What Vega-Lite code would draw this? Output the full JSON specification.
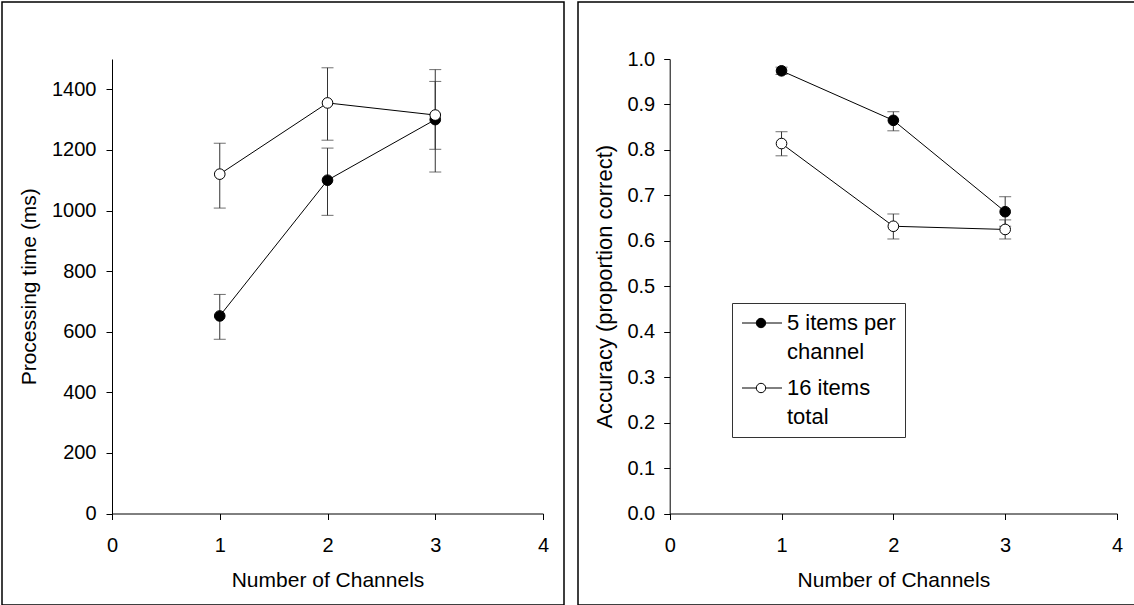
{
  "$schema": "https://vega.github.io/schema/vega-lite/v6.json",
  "padding": {"left": 1, "top": 1, "right": 0, "bottom": 0},
  "spacing": 12,
  "background": "white",
  "config": {
    "font": "Liberation Sans",
    "view": {"stroke": "black", "strokeWidth": 1.5},
    "axis": {
      "grid": false,
      "domainColor": "black",
      "tickColor": "black",
      "labelColor": "black",
      "titleColor": "black",
      "labelFontSize": 20,
      "titleFontSize": 21,
      "titleFontWeight": "normal",
      "tickSize": 6,
      "domainWidth": 1,
      "tickWidth": 1,
      "labelOverlap": false,
      "labelFlush": false
    },
    "style": {"guide-label": {"lineHeight": 29}}
  },
  "resolve": {
    "scale": {"x": "independent", "y": "independent", "fill": "independent"},
    "legend": {"fill": "independent"}
  },
  "hconcat": [
    {
      "width": 562,
      "height": 603,
      "data": {
        "values": [
          {"group": "5 items per channel", "channels": 1, "value": 652, "lo": 575, "hi": 723},
          {"group": "5 items per channel", "channels": 2, "value": 1100, "lo": 984, "hi": 1206},
          {"group": "5 items per channel", "channels": 3, "value": 1300, "lo": 1127, "hi": 1465},
          {"group": "16 items total", "channels": 1, "value": 1120, "lo": 1008, "hi": 1222},
          {"group": "16 items total", "channels": 2, "value": 1355, "lo": 1232, "hi": 1471},
          {"group": "16 items total", "channels": 3, "value": 1315, "lo": 1202, "hi": 1426}
        ]
      },
      "encoding": {
        "x": {
          "field": "channels",
          "type": "quantitative",
          "title": "Number of Channels",
          "scale": {"domain": [0, 4], "range": [110, 541], "nice": false, "zero": false},
          "axis": {
            "values": [0, 1, 2, 3, 4],
            "format": "d",
            "offset": -91.5,
            "labelBaseline": "alphabetic",
            "labelPadding": 31.5,
            "titleBaseline": "alphabetic",
            "titleY": 72.5
          }
        }
      },
      "layer": [
        {
          "mark": {"type": "errorbar", "ticks": {"size": 12}, "color": "#333333"},
          "encoding": {
            "y": {
              "field": "lo",
              "type": "quantitative",
              "title": "Processing time (ms)",
              "scale": {"domain": [0, 1500], "range": [511.5, 57], "nice": false},
              "axis": {
                "values": [0, 200, 400, 600, 800, 1000, 1200, 1400],
                "format": "d",
                "offset": -110,
                "labelPadding": 10,
                "titleAngle": 270,
                "titleBaseline": "alphabetic",
                "titleX": -76.7
              }
            },
            "y2": {"field": "hi"},
            "detail": {"field": "group"}
          }
        },
        {
          "mark": {"type": "line", "color": "black", "strokeWidth": 1},
          "encoding": {
            "y": {"field": "value", "type": "quantitative", "title": "Processing time (ms)"},
            "detail": {"field": "group"}
          }
        },
        {
          "mark": {"type": "point", "filled": true, "size": 113, "stroke": "black", "strokeWidth": 1, "opacity": 1},
          "encoding": {
            "y": {"field": "value", "type": "quantitative", "title": "Processing time (ms)"},
            "fill": {
              "field": "group",
              "type": "nominal",
              "scale": {"domain": ["5 items per channel", "16 items total"], "range": ["black", "white"]},
              "legend": null
            }
          }
        }
      ]
    },
    {
      "width": 558,
      "height": 603,
      "data": {
        "values": [
          {"group": "5 items per channel", "channels": 1, "value": 0.974, "lo": 0.966, "hi": 0.982},
          {"group": "5 items per channel", "channels": 2, "value": 0.865, "lo": 0.842, "hi": 0.884},
          {"group": "5 items per channel", "channels": 3, "value": 0.664, "lo": 0.632, "hi": 0.697},
          {"group": "16 items total", "channels": 1, "value": 0.814, "lo": 0.787, "hi": 0.84},
          {"group": "16 items total", "channels": 2, "value": 0.632, "lo": 0.604, "hi": 0.659},
          {"group": "16 items total", "channels": 3, "value": 0.625, "lo": 0.604, "hi": 0.646}
        ]
      },
      "encoding": {
        "x": {
          "field": "channels",
          "type": "quantitative",
          "title": "Number of Channels",
          "scale": {"domain": [0, 4], "range": [91.7, 539], "nice": false, "zero": false},
          "axis": {
            "values": [0, 1, 2, 3, 4],
            "format": "d",
            "offset": -91.5,
            "labelBaseline": "alphabetic",
            "labelPadding": 31.5,
            "titleBaseline": "alphabetic",
            "titleY": 72.5
          }
        }
      },
      "layer": [
        {
          "mark": {"type": "errorbar", "ticks": {"size": 12}, "color": "#333333"},
          "encoding": {
            "y": {
              "field": "lo",
              "type": "quantitative",
              "title": "Accuracy (proportion correct)",
              "scale": {"domain": [0, 1], "range": [511.5, 57], "nice": false},
              "axis": {
                "values": [0, 0.1, 0.2, 0.3, 0.4, 0.5, 0.6, 0.7, 0.8, 0.9, 1],
                "format": ".1f",
                "offset": -91.7,
                "labelPadding": 9,
                "titleFontSize": 22,
                "titleAngle": 270,
                "titleBaseline": "alphabetic",
                "titleX": -58
              }
            },
            "y2": {"field": "hi"},
            "detail": {"field": "group"}
          }
        },
        {
          "mark": {"type": "line", "color": "black", "strokeWidth": 1},
          "encoding": {
            "y": {"field": "value", "type": "quantitative", "title": "Accuracy (proportion correct)"},
            "detail": {"field": "group"}
          }
        },
        {
          "mark": {"type": "point", "filled": true, "size": 113, "stroke": "black", "strokeWidth": 1, "opacity": 1},
          "encoding": {
            "y": {"field": "value", "type": "quantitative", "title": "Accuracy (proportion correct)"},
            "fill": {
              "field": "group",
              "type": "nominal",
              "scale": {"domain": ["5 items per channel", "16 items total"], "range": ["black", "white"]},
              "legend": {
                "orient": "none",
                "legendX": 154,
                "legendY": 301,
                "title": null,
                "padding": 9,
                "rowPadding": 14,
                "strokeColor": "#333333",
                "fillColor": "white",
                "symbolType": "M-1,0H0.43M1.37,0A0.47,0.47,0,1,1,0.43,0A0.47,0.47,0,1,1,1.37,0M1.37,0H3",
                "symbolSize": 400,
                "symbolStrokeColor": "black",
                "symbolStrokeWidth": 1,
                "symbolOpacity": 1,
                "labelFontSize": 22,
                "labelOffset": 24,
                "labelColor": "black",
                "labelLimit": 300,
                "labelBaseline": "middle",
                "labelExpr": "datum.label == '5 items per channel' ? ['5 items per', 'channel'] : ['16 items', 'total']"
              }
            }
          }
        }
      ]
    }
  ]
}
